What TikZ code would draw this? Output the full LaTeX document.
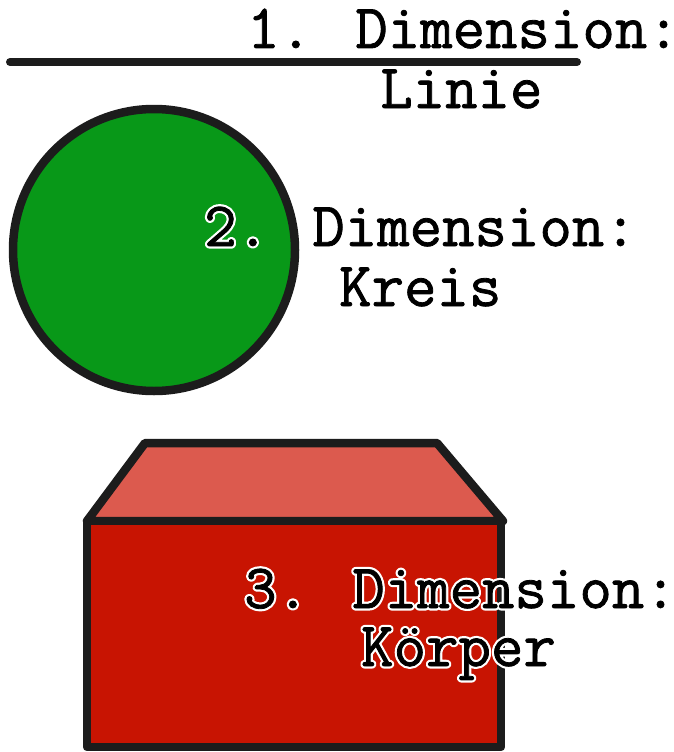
\documentclass[tikz,border=0pt]{standalone}
\definecolor{ink}{RGB}{28,28,28}
\definecolor{kreisgruen}{RGB}{8,152,24}
\definecolor{deckrot}{RGB}{220,90,78}
\definecolor{frontrot}{RGB}{200,20,2}
\tikzset{
  outline/.style={draw=ink, line width=8.5pt, line cap=round, line join=round},
  lbl/.style={anchor=base west, inner sep=0pt, font=\fontsize{63}{63}\selectfont\ttfamily}
}
% text with a stroked white halo behind it, drawn with a slightly heavier black stroke
\newcommand\halo[1]{%
  \rlap{\color{white}\special{pdf:literal direct 1 Tr 5.2 w 1 J 1 j}#1\special{pdf:literal direct 0 Tr}}%
  {\color{black}\special{pdf:literal direct 2 Tr 0.8 w}#1\special{pdf:literal direct 0 Tr}}%
}
\begin{document}
\begin{tikzpicture}[x=1pt, y=-1pt]
  \useasboundingbox (0,0) rectangle (674,752);
  \fill[white] (0,0) rectangle (674,752);

  % 1st dimension: a line
  \draw[outline, line width=8pt] (10,62) -- (577,62);

  % 2nd dimension: a disc
  \draw[outline, fill=kreisgruen] (154,250) ellipse[x radius=141, y radius=141];

  % 3rd dimension: a box
  \draw[outline, fill=deckrot] (87,521) -- (145,443) -- (437,443) -- (503,521) -- cycle;
  \draw[outline, fill=frontrot] (87,521) rectangle (501,747);

  % labels
  \node[lbl] (t1a) at (247,48)  {\halo{1. Dimension:}};
  \node[lbl] (t1b) at (380,108) {\halo{Linie}};
  \node[lbl] (t2a) at (204,246) {\halo{2. Dimension:}};
  \node[lbl] (t2b) at (339,306) {\halo{Kreis}};
  \node[lbl] (t3a) at (244,608) {\halo{3. Dimension:}};
  \node[lbl] (t3b) at (361,666) {\halo{Körper}};
\end{tikzpicture}
\end{document}
